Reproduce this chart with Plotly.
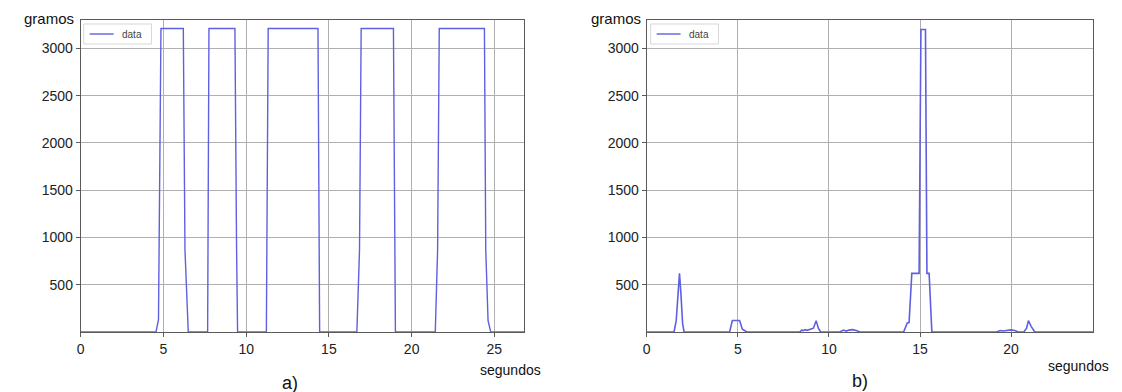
import plotly.graph_objects as go

# ---- data: panel a) ----
t_a = [0, 4.55, 4.7, 4.85, 6.2, 6.3, 6.5, 7.67, 7.75, 9.32, 9.42, 9.48, 11.22, 11.33,
       14.34, 14.44, 16.69, 16.85, 16.95, 18.9, 19.02, 21.43, 21.57, 21.67, 24.4,
       24.48, 24.62, 24.78, 26.8]
w_a = [0, 0, 130, 3210, 3210, 870, 0, 0, 3210, 3210, 870, 0, 0, 3210,
       3210, 0, 0, 870, 3210, 3210, 0, 0, 870, 3210, 3210,
       870, 120, 0, 0]

# ---- data: panel b) ----
t_b = [0, 1.5, 1.62, 1.72, 1.8, 1.88, 1.97, 2.05, 4.55, 4.7, 5.1, 5.25, 5.45, 5.5,
       8.4, 8.5, 8.6, 8.7, 8.8, 9.0, 9.15, 9.3, 9.42, 9.55, 10.6, 10.8, 10.95,
       11.1, 11.3, 11.5, 11.7, 14.1, 14.3, 14.4, 14.55, 14.95, 15.05, 15.3, 15.38,
       15.5, 15.65, 19.2, 19.4, 19.55, 19.8, 20.0, 20.2, 20.4, 20.7, 20.85, 20.95,
       21.1, 21.3, 24.5]
w_b = [0, 0, 120, 450, 620, 400, 90, 0, 0, 122, 122, 30, 10, 0,
       0, 20, 15, 25, 18, 30, 40, 120, 40, 0, 0, 20, 10,
       20, 25, 15, 0, 0, 95, 100, 620, 620, 3200, 3200, 620,
       620, 0, 0, 15, 10, 20, 22, 15, 0, 0, 40, 120,
       60, 0, 0]

y_ticks = [500, 1000, 1500, 2000, 2500, 3000]
x_ticks_a = [0, 5, 10, 15, 20, 25]
x_ticks_b = [0, 5, 10, 15, 20]

FONT = "Liberation Sans, Arial, sans-serif"
LINE = "rgb(95,95,225)"
GRID = "rgb(176,176,176)"
FRAME = "rgb(90,90,90)"

W, H = 1122, 392
ax_a = (77 / W, 522 / W)
ax_b = (645 / W, 1093 / W)
ydom = (1 - 332 / H, 1 - 20 / H)

fig = go.Figure()
fig.add_trace(go.Scatter(x=t_a, y=w_a, mode="lines", name="data",
                         line=dict(color=LINE, width=1.4), xaxis="x", yaxis="y",
                         showlegend=False))
fig.add_trace(go.Scatter(x=t_b, y=w_b, mode="lines", name="data",
                         line=dict(color=LINE, width=1.6), xaxis="x2", yaxis="y2",
                         showlegend=False))

axcommon = dict(showgrid=True, gridcolor=GRID, gridwidth=1, showline=True,
                linecolor=FRAME, linewidth=1, mirror=True, ticks="outside",
                ticklen=4, tickcolor=FRAME, zeroline=False,
                tickfont=dict(family=FONT, size=14, color="#222"))

fig.update_layout(
    width=W, height=H, margin=dict(l=0, r=0, t=0, b=0),
    paper_bgcolor="white", plot_bgcolor="white", showlegend=False,
    xaxis=dict(domain=ax_a, range=[0, 26.8], tickvals=x_ticks_a, anchor="y", **axcommon),
    yaxis=dict(domain=ydom, range=[0, 3300], tickvals=y_ticks, anchor="x", **axcommon),
    xaxis2=dict(domain=ax_b, range=[0, 24.5], tickvals=x_ticks_b, anchor="y2", **axcommon),
    yaxis2=dict(domain=ydom, range=[0, 3300], tickvals=y_ticks, anchor="x2", **axcommon),
)

# legends drawn as boxes with a sample line and label
for (x0, xline0, xline1, xt) in [(80, 86, 110, 116), (649, 655, 679, 685)]:
    fig.add_shape(type="rect", xref="paper", yref="paper",
                  x0=x0 / W, x1=(x0 + 68) / W, y0=1 - 44 / H, y1=1 - 24 / H,
                  line=dict(color="rgb(215,215,215)", width=1), fillcolor="rgba(255,255,255,0.85)")
    fig.add_shape(type="line", xref="paper", yref="paper",
                  x0=xline0 / W, x1=xline1 / W, y0=1 - 34 / H, y1=1 - 34 / H,
                  line=dict(color=LINE, width=1.4))
    fig.add_annotation(text="data", xref="paper", yref="paper", x=xt / W, y=1 - 34 / H,
                       xanchor="left", yanchor="middle", showarrow=False,
                       font=dict(family=FONT, size=10, color="#444"))

texts = [
    ("gramos", 72, 19, "right", 15),
    ("gramos", 641, 19, "right", 15),
    ("segundos", 541, 370, "right", 14),
    ("segundos", 1111, 366, "right", 14),
    ("a)", 287, 383, "center", 18),
    ("b)", 859, 381, "center", 18),
]
for txt, px, py, anc, fs in texts:
    fig.add_annotation(text=txt, xref="paper", yref="paper", x=px / W, y=1 - py / H,
                       xanchor=anc, yanchor="middle", showarrow=False,
                       font=dict(family=FONT, size=fs, color="#111"))

fig.write_html("out.html")
